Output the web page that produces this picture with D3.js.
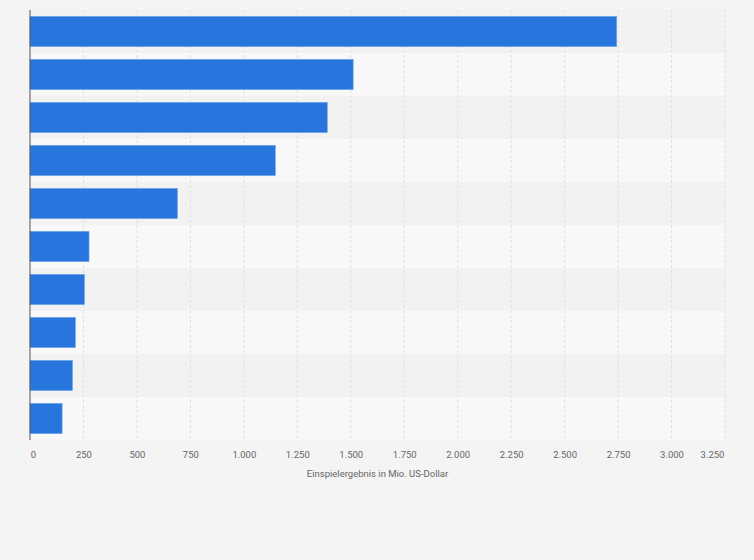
<!DOCTYPE html>
<html><head><meta charset="utf-8">
<script src="https://cdn.jsdelivr.net/npm/d3@7"></script>
<style>body{margin:0;background:#f4f4f4}svg{display:block}</style>
</head><body>
<svg id="c" width="754" height="560"></svg>
<script>
const categories = ["Film 1","Film 2","Film 3","Film 4","Film 5","Film 6","Film 7","Film 8","Film 9","Film 10"];
const values = [2743, 1511, 1390, 1147, 689, 276, 254, 212, 198, 150];
const tickValues = [0,250,500,750,1000,1250,1500,1750,2000,2250,2500,2750,3000,3250];
const axisTitle = "Einspielergebnis in Mio. US-Dollar";

const svg = d3.select("#c");
const m = {l:30, r:29, t:10, b:120};
const W = 754, H = 560;
const x = d3.scaleLinear().domain([0,3250]).range([m.l, W-m.r]);
const y = d3.scaleBand().domain(categories).range([m.t, H-m.b]).paddingInner(0).paddingOuter(0);
const fmt = d3.formatLocale({decimal:",",thousands:".",grouping:[3],currency:["","$"]}).format(",");

svg.append("g").selectAll("rect").data(categories).join("rect")
  .attr("x", m.l).attr("width", W-m.r-m.l)
  .attr("y", d=>y(d)).attr("height", y.bandwidth())
  .attr("fill", (d,i)=> i%2===0 ? "#f2f2f2" : "#f8f8f8");

svg.append("g").selectAll("line").data(tickValues.slice(1)).join("line")
  .attr("x1", d=>x(d)).attr("x2", d=>x(d))
  .attr("y1", m.t).attr("y2", H-m.b)
  .attr("stroke", "#e0e0e0").attr("stroke-dasharray", "3,2");

const bh = 30;
svg.append("g").selectAll("rect").data(values).join("rect")
  .attr("x", x(0)).attr("y", (d,i)=> y(categories[i]) + (y.bandwidth()-bh)/2)
  .attr("width", d=> x(d)-x(0)).attr("height", bh)
  .attr("fill", "#2876dd").attr("stroke", "#5a9be8").attr("stroke-width", 0.6);

svg.append("line").attr("x1", m.l).attr("x2", m.l).attr("y1", m.t).attr("y2", H-m.b)
  .attr("stroke", "#555").attr("stroke-width", 1);

const ax = d3.axisBottom(x).tickValues(tickValues).tickFormat(fmt).tickSize(0).tickPadding(0);
const g = svg.append("g").attr("transform", `translate(0,${H-m.b+11})`).call(ax);
g.select(".domain").remove();
g.selectAll("text").attr("fill","#666").style("font-family","Roboto, Arial, sans-serif").style("font-size","9.5px");
g.selectAll(".tick").filter(d=>d===0).select("text").attr("dx", 3);
g.selectAll(".tick").filter(d=>d===3250).select("text").attr("dx", -13);

svg.append("text").attr("x", x(1625)).attr("y", 477).attr("text-anchor","middle")
  .attr("fill","#666").style("font-family","Roboto, Arial, sans-serif").style("font-size","9.5px")
  .text(axisTitle);
</script>
</body></html>
